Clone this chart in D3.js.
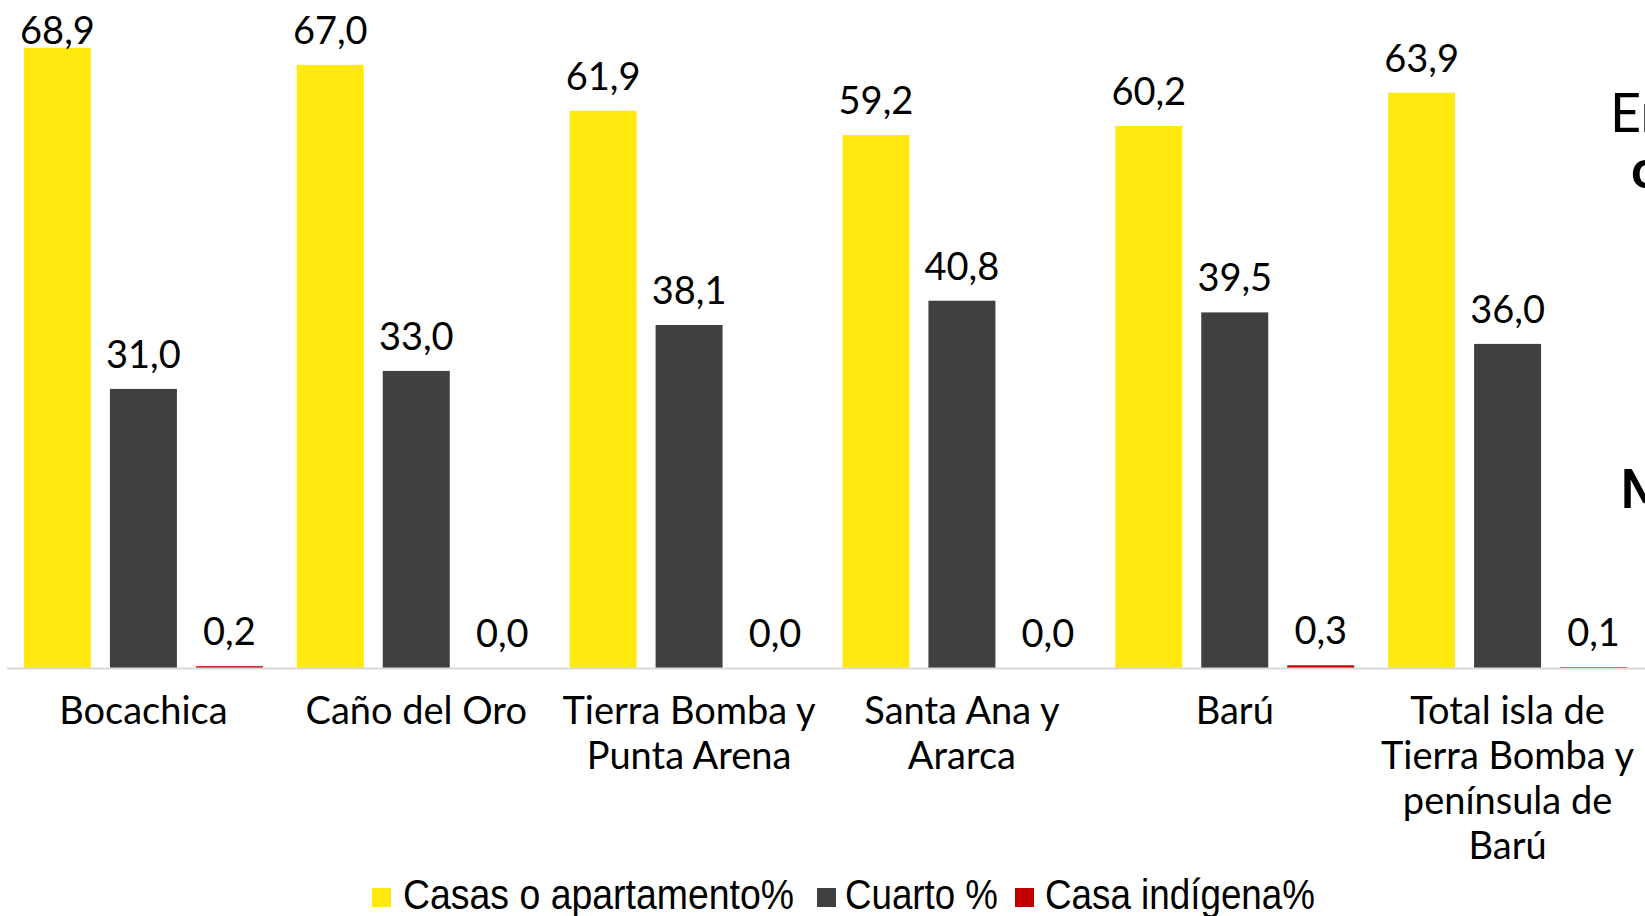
<!DOCTYPE html>
<html><head><meta charset="utf-8">
<script src="https://cdn.jsdelivr.net/npm/d3@7"></script>
<style>html,body{margin:0;padding:0;background:#fff;overflow:hidden}</style>
</head><body>
<svg id="c" width="1645" height="916"></svg>
<script>
const categories = ["Bocachica","Caño del Oro","Tierra Bomba y Punta Arena","Santa Ana y Ararca","Barú","Total isla de Tierra Bomba y península de Barú"];
const categoryLines = [["Bocachica"],["Caño del Oro"],["Tierra Bomba y","Punta Arena"],["Santa Ana y","Ararca"],["Barú"],["Total isla de","Tierra Bomba y","península de","Barú"]];
const seriesNames = ["Casas o apartamento%","Cuarto %","Casa indígena%"];
const casas = [68.9,67.0,61.9,59.2,60.2,63.9];
const cuarto = [31.0,33.0,38.1,40.8,39.5,36.0];
const indigena = [0.2,0.0,0.0,0.0,0.3,0.1];
const colors = ["#FFE90F","#404040","#C00000"];

const svg = d3.select("#c");
const baseY = 668;
const y = d3.scaleLinear().domain([0,74.2]).range([baseY,0]);
const x0 = d3.scaleBand().domain(categories).range([7,1644]).padding(0);
const x1 = d3.scaleBand().domain(seriesNames).range([0,x0.bandwidth()]).paddingInner(0.221).paddingOuter(0.197);
const vals = [casas,cuarto,indigena];
const fmt = v => d3.format(".1f")(v).replace(".",",");
const labelFont = "Lato, 'Open Sans', sans-serif";

// bars
categories.forEach((c,i)=>{
  seriesNames.forEach((s,j)=>{
    const v = vals[j][i];
    svg.append("rect")
      .attr("x", x0(c)+x1(s)).attr("width", x1.bandwidth())
      .attr("y", y(v)).attr("height", baseY - y(v))
      .attr("fill", colors[j]);
  });
});
// baseline
svg.append("line").attr("x1",7).attr("x2",1645).attr("y1",baseY+0.5).attr("y2",baseY+0.5)
  .attr("stroke","#D9D9D9").attr("stroke-width",2);
// data labels
categories.forEach((c,i)=>{
  seriesNames.forEach((s,j)=>{
    const v = vals[j][i];
    svg.append("text")
      .attr("x", x0(c)+x1(s)+x1.bandwidth()/2)
      .attr("y", Math.max(44, y(v)-21))
      .attr("text-anchor","middle")
      .attr("font-family",labelFont).attr("font-size",38).attr("fill","#000")
      .text(fmt(v));
  });
});
// category labels
categories.forEach((c,i)=>{
  const t = svg.append("text").attr("text-anchor","middle")
    .attr("font-family",labelFont).attr("font-size",38).attr("fill","#000");
  categoryLines[i].forEach((ln,k)=>{
    t.append("tspan").attr("x", x0(c)+x0.bandwidth()/2).attr("y", 724 + k*45).text(ln);
  });
});
// legend
const legItems = [{x:372,tx:403,w:391},{x:817,tx:845,w:153},{x:1015,tx:1045,w:270}];
seriesNames.forEach((s,j)=>{
  svg.append("rect").attr("x",legItems[j].x).attr("y",888).attr("width",19).attr("height",19).attr("fill",colors[j]);
  svg.append("text").attr("x",legItems[j].tx).attr("y",909)
    .attr("font-family","'Liberation Sans Narrow','Liberation Sans',sans-serif")
    .attr("font-size",42).attr("fill","#000")
    .attr("textLength",legItems[j].w).attr("lengthAdjust","spacingAndGlyphs")
    .text(s);
});
// clipped side text fragments
svg.append("text").attr("x",1610).attr("y",132).attr("font-family",labelFont).attr("font-size",54).attr("fill","#000").text("En");
svg.append("text").attr("x",1631).attr("y",188).attr("font-family",labelFont).attr("font-weight","bold").attr("font-size",54).attr("fill","#000").text("c");
svg.append("text").attr("x",1620).attr("y",508).attr("font-family",labelFont).attr("font-weight","bold").attr("font-size",54).attr("fill","#000").text("M");
</script>
</body></html>
